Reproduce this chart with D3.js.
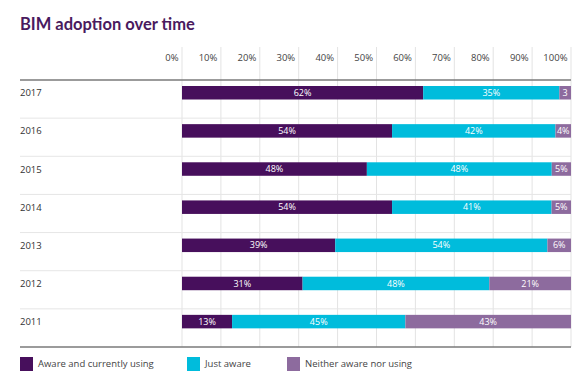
<!DOCTYPE html>
<html>
<head>
<meta charset="utf-8">
<script src="https://cdn.jsdelivr.net/npm/d3@7"></script>
<style>
  body { margin: 0; background: #fff; }
  text { font-family: "Open Sans", "Noto Sans", sans-serif; }
</style>
</head>
<body>
<script>
// data
var years = ["2017", "2016", "2015", "2014", "2013", "2012", "2011"];
var using = [62, 54, 48, 54, 39, 31, 13];
var aware = [35, 42, 48, 41, 54, 48, 45];
var neither = [3, 4, 5, 5, 6, 21, 43];
var seriesNames = ["Aware and currently using", "Just aware", "Neither aware nor using"];
var ticks = [0, 10, 20, 30, 40, 50, 60, 70, 80, 90, 100];

var colors = ["#470f5c", "#00bcdc", "#8d6b9e"];

var svgWidth = 585, svgHeight = 387;

var svg = d3.select("body").append("svg")
  .attr("width", svgWidth)
  .attr("height", svgHeight);

svg.append("text")
  .attr("x", 20)
  .attr("y", 30)
  .attr("fill", "#4a1a5e")
  .style("font-family", "Lato, 'Open Sans', sans-serif")
  .style("font-size", "16.5px")
  .style("font-weight", 700)
  .text("BIM adoption over time");

var rows = years.map(function(y, i) {
  return { year: y, s0: using[i], s1: aware[i], s2: neither[i] };
});

var x = d3.scaleLinear().domain([0, 1]).range([182, 571]);
var y = d3.scaleBand().domain(years).range([80, 347]);

// vertical grid
svg.append("g").selectAll("line")
  .data(ticks)
  .enter().append("line")
  .attr("x1", d => x(d / 100))
  .attr("x2", d => x(d / 100))
  .attr("y1", 47)
  .attr("y2", 347)
  .attr("stroke", "#e3e3e3")
  .attr("stroke-width", 1);

// tick labels on top
var xAxis = d3.axisTop(x)
  .tickValues(ticks.map(d => d / 100))
  .tickFormat(d => Math.round(d * 100) + "%")
  .tickSize(0);

var ax = svg.append("g")
  .attr("transform", "translate(0,61)")
  .call(xAxis);
ax.select(".domain").remove();
ax.selectAll("text")
  .attr("text-anchor", "end")
  .attr("dx", "-4")
  .attr("y", 0)
  .attr("dy", 0)
  .attr("fill", "#444")
  .style("font-size", "9.5px")
  .style("font-family", "'Open Sans', sans-serif");

// light row separators
svg.append("g").selectAll("line")
  .data(years.slice(1))
  .enter().append("line")
  .attr("x1", 20)
  .attr("x2", 571)
  .attr("y1", d => y(d))
  .attr("y2", d => y(d))
  .attr("stroke", "#e6e6e6");

// dark top and bottom rules
[80, 347].forEach(function(v) {
  svg.append("line")
    .attr("x1", 20).attr("x2", 571)
    .attr("y1", v).attr("y2", v)
    .attr("stroke", "#7a7a7a")
    .attr("stroke-width", 1.5);
});

// year labels
svg.append("g").selectAll("text")
  .data(years)
  .enter().append("text")
  .attr("x", 20)
  .attr("y", d => y(d) + 13)
  .attr("dy", "0.35em")
  .attr("fill", "#333")
  .style("font-size", "9.5px")
  .text(d => d);

var stack = d3.stack().keys(["s0", "s1", "s2"]).offset(d3.stackOffsetExpand);
var stacked = stack(rows);

var barH = 13.5;
var layers = svg.append("g").selectAll("g")
  .data(stacked)
  .enter().append("g")
  .attr("fill", (d, i) => colors[i]);

layers.selectAll("rect")
  .data(d => d)
  .enter().append("rect")
  .attr("x", d => x(d[0]))
  .attr("width", d => x(d[1]) - x(d[0]))
  .attr("y", d => y(d.data.year) + 6)
  .attr("height", barH);

layers.each(function(layer) {
  d3.select(this).selectAll("text")
    .data(layer)
    .enter().append("text")
    .attr("x", d => (x(d[0]) + x(d[1])) / 2)
    .attr("y", d => y(d.data.year) + 6 + barH / 2)
    .attr("dy", "0.35em")
    .attr("text-anchor", "middle")
    .attr("fill", "#fff")
    .style("font-size", "9px")
    .text(function(d) {
      var v = d.data[layer.key];
      return v < 4 ? String(v) : v + "%";
    });
});

// legend
var legendX = [20, 187, 287];
var legend = svg.append("g").selectAll("g")
  .data(seriesNames)
  .enter().append("g")
  .attr("transform", (d, i) => "translate(" + legendX[i] + ",357)");

legend.append("rect")
  .attr("width", 13)
  .attr("height", 14)
  .attr("fill", (d, i) => colors[i]);

legend.append("text")
  .attr("x", 18)
  .attr("y", 7)
  .attr("dy", "0.35em")
  .attr("fill", "#444")
  .style("font-size", "9.5px")
  .text(d => d);
</script>
</body>
</html>
